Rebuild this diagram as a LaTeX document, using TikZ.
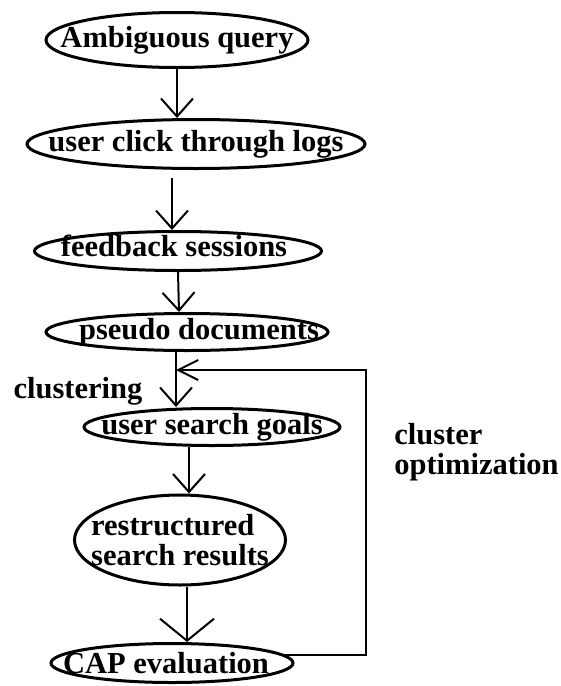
\documentclass[tikz,border=0pt]{standalone}
\usepackage{fontspec}
\setmainfont{Liberation Serif}
\usetikzlibrary{shapes.geometric,arrows.meta}

\begin{document}
\begin{tikzpicture}[x=1pt,y=-1pt,->,>={Straight Barb[length=18pt,width=32pt]},
  line width=2pt,font=\fontsize{30.5}{30}\selectfont\bfseries,
  step node/.style={ellipse,draw,line width=3pt,inner sep=0pt}]
  \useasboundingbox (0,0) rectangle (561,686);

  \node[step node,minimum width=262pt,minimum height=55pt,label=center:Ambiguous query] (query) at (177,40) {};
  \node[step node,minimum width=338pt,minimum height=49pt,label=center:user click through logs] (logs) at (196,144) {};
  \node[step node,minimum width=287pt,minimum height=39pt,label={[xshift=-4pt,yshift=5pt]center:feedback sessions}] (feedback) at (178,251) {};
  \node[step node,minimum width=282pt,minimum height=37pt,label={[xshift=12pt]center:pseudo documents}] (pseudo) at (187,332) {};
  \node[step node,minimum width=256pt,minimum height=37pt,label=center:user search goals] (goals) at (212,427) {};
  \node[step node,minimum width=211pt,minimum height=90pt,label={[align=left]center:restructured\\search results}] (results) at (180,540) {};
  \node[step node,minimum width=242pt,minimum height=39pt,label={[xshift=-6pt]center:CAP evaluation}] (cap) at (172,663) {};

  \node (clustering) at (78,391) {clustering};
  \node[align=left,anchor=west] (optim) at (390,452) {cluster\\optimization};

  \coordinate (join) at (176,370);
  \coordinate (turn) at (366,370);

  \draw (query.south) -- (query.south |- logs.north);
  \draw ([xshift=-24pt,yshift=-8pt]logs.south) -- ([xshift=-6pt]feedback.north);
  \draw (feedback.south) -- ([xshift=-8pt]pseudo.north);
  \draw ([xshift=-11pt]pseudo.south) -- (join) -- ([xshift=-36pt]goals.north);
  \draw ([xshift=-23pt]goals.south) -- ([xshift=9pt]results.north);
  \draw[-{Straight Barb[length=22pt,width=54pt]}] ([xshift=7pt]results.south) -- ([xshift=15pt]cap.north);
  \draw[-{Straight Barb[length=20pt,width=20pt]}] (cap.4) -| (turn) -- (join);
\end{tikzpicture}
\end{document}
